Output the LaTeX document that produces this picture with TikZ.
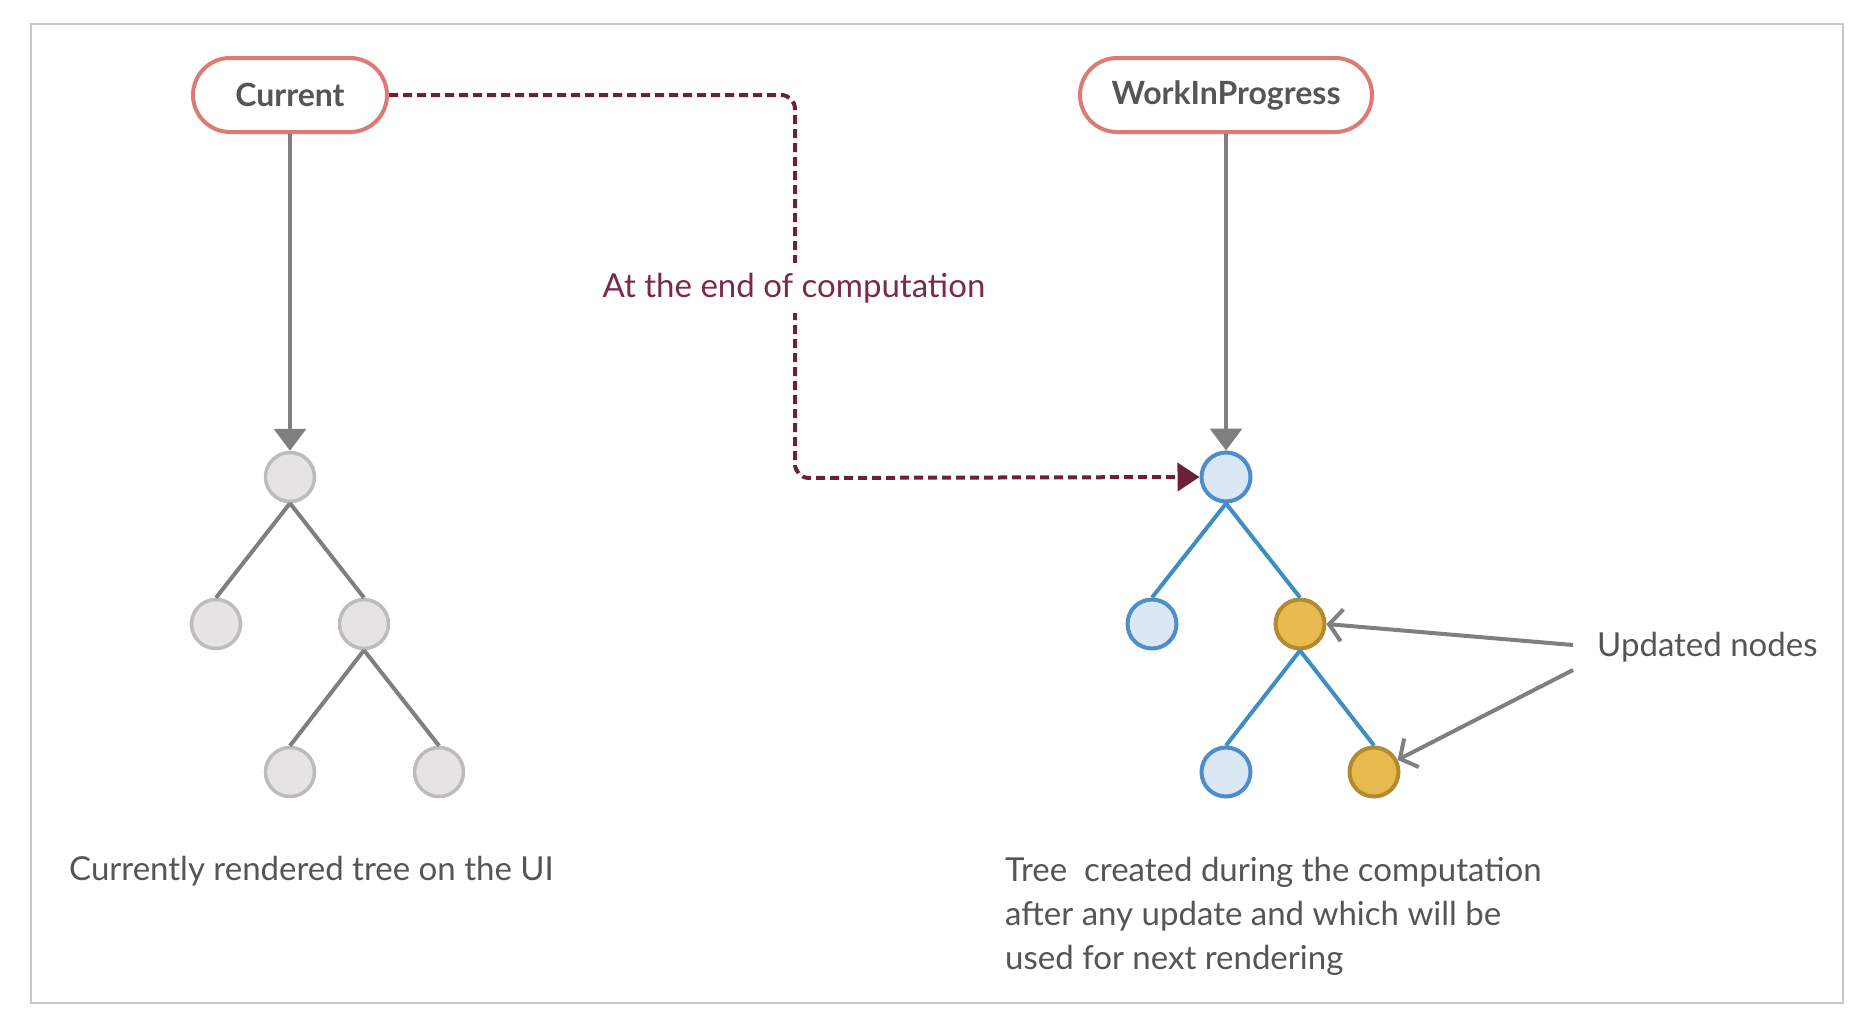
\documentclass[tikz,border=0pt]{standalone}
\usepackage{fontspec}
\setmainfont{Lato}
\usetikzlibrary{arrows.meta}
\definecolor{pillred}{HTML}{DC7A74}
\definecolor{txtgray}{HTML}{555555}
\definecolor{maroon}{HTML}{6E1F3C}
\definecolor{lblmaroon}{HTML}{7A2A4C}
\definecolor{arrgray}{HTML}{7F7F7F}
\definecolor{ngfill}{HTML}{E6E3E5}
\definecolor{ngdraw}{HTML}{BDBBBC}
\definecolor{nbfill}{HTML}{DAE7F4}
\definecolor{nbdraw}{HTML}{4D8DCB}
\definecolor{bedge}{HTML}{3C8EC3}
\definecolor{nyfill}{HTML}{E8B94F}
\definecolor{nydraw}{HTML}{B28A2F}
\definecolor{framegray}{HTML}{C8C8C8}
\tikzset{
  pill/.style={draw=pillred, line width=4pt, rounded corners=37pt, fill=white,
    text=txtgray, font=\fontsize{32}{36}\selectfont\bfseries, minimum height=74pt, inner xsep=10pt},
  greynode/.style={circle, draw=ngdraw, fill=ngfill, line width=3.5pt, minimum size=49pt, inner sep=0pt},
  bluenode/.style={circle, draw=nbdraw, fill=nbfill, line width=4pt, minimum size=49pt, inner sep=0pt},
  yellownode/.style={circle, draw=nydraw, fill=nyfill, line width=4pt, minimum size=49pt, inner sep=0pt},
  gedge/.style={draw=arrgray, line width=4pt},
  bedgestyle/.style={draw=bedge, line width=4pt},
  downarrow/.style={draw=arrgray, line width=3.5pt, -{Triangle[width=32pt,length=22pt]}},
  dashconn/.style={draw=maroon, line width=4pt, dash pattern=on 9pt off 5pt, rounded corners=14pt,
    -{Triangle[width=28pt,length=22pt]}},
  barbarrow/.style={draw=arrgray, line width=4pt, -{Straight Barb[length=13pt,width=32pt]}},
  txt/.style={text=txtgray, font=\fontsize{33}{44}\selectfont, inner sep=0pt},
}
\begin{document}
\begin{tikzpicture}[x=1pt,y=-1pt]
\useasboundingbox (0,0) rectangle (1874,1031);
\draw[framegray, line width=2pt] (31,24) rectangle (1843,1003);

% top pills
\node[pill, minimum width=194pt] (cur) at (290,95) {Current};
\node[pill, minimum width=292pt] (wip) at (1226,95) {WorkInProgress};

% left tree
\node[greynode] (l0) at (290,477) {};
\node[greynode] (l1) at (216,624) {};
\node[greynode] (l2) at (364,624) {};
\node[greynode] (l3) at (290,772) {};
\node[greynode] (l4) at (439,772) {};
\draw[gedge] (l0.south) -- (l1.north);
\draw[gedge] (l0.south) -- (l2.north);
\draw[gedge] (l2.south) -- (l3.north);
\draw[gedge] (l2.south) -- (l4.north);

% right tree
\node[bluenode] (r0) at (1226,477) {};
\node[bluenode] (r1) at (1152,624) {};
\node[yellownode] (r2) at (1300,624) {};
\node[bluenode] (r3) at (1226,772) {};
\node[yellownode] (r4) at (1374,772) {};
\draw[bedgestyle] (r0.south) -- (r1.north);
\draw[bedgestyle] (r0.south) -- (r2.north);
\draw[bedgestyle] (r2.south) -- (r3.north);
\draw[bedgestyle] (r2.south) -- (r4.north);

% vertical arrows
\draw[downarrow] (cur.south) -- (l0.north);
\draw[downarrow] (wip.south) -- (r0.north);

% dashed connector
\coordinate (bend) at (795,478);
\draw[dashconn] (cur.east) -| (bend) -- (r0.west);
\node[fill=white, text=lblmaroon, font=\fontsize{33}{36}\selectfont, inner xsep=2pt, inner ysep=10pt] (lbl) at (794,288) {At the end of computation};

% updated nodes
\node[txt, anchor=west] (upd) at (1597,647) {Updated nodes};
\coordinate (u1) at (1573,645);
\coordinate (u2) at (1573,670);
\draw[barbarrow] (u1) -- (r2.east);
\draw[barbarrow] (u2) -- (r4);

% captions
\node[txt, anchor=base west] (capl) at (69,880) {Currently rendered tree on the UI};
\node[txt, anchor=north west, align=left] (capr) at (1005,857) {Tree\ \ created during the computation\\after any update and which will be\\used for next rendering};
\end{tikzpicture}
\end{document}
